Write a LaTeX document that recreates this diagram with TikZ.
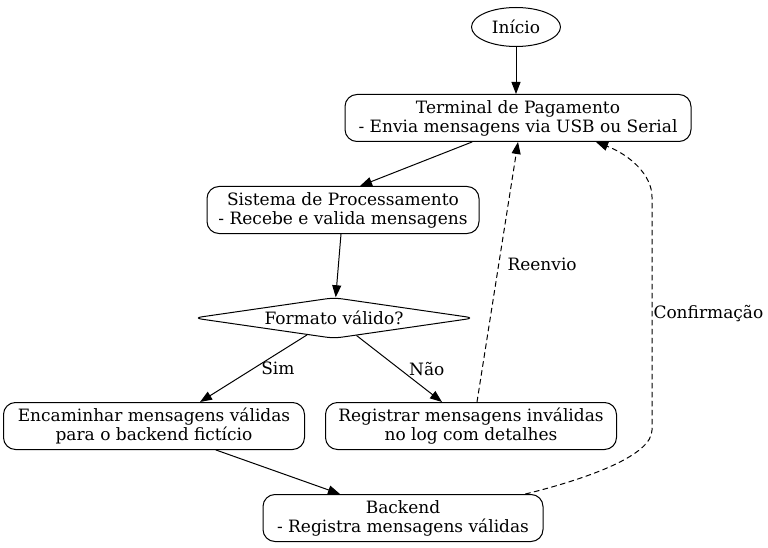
\documentclass[tikz,border=0pt]{standalone}
\usepackage{fontspec}
\setmainfont{DejaVu Serif}
\usetikzlibrary{shapes.geometric,arrows.meta}

\begin{document}
\begin{tikzpicture}[x=1pt,y=-1pt,line join=round,line cap=round,>={Triangle[length=12pt,width=9pt]},line width=1pt]
	\tikzset{every node/.style={font=\fontsize{17}{19}\selectfont,align=center},
		caixa/.style={draw,rounded corners=12pt,minimum height=47pt,inner sep=0pt},
		decisao/.style={draw,diamond,aspect=7,rounded corners=8pt,minimum width=281pt,minimum height=41pt,inner sep=0pt},
		tracejado/.style={dashed,dash pattern=on 5pt off 4pt}}
	\useasboundingbox (0,0) rectangle (768,548);
	% nos
	\node[draw,ellipse,minimum width=89pt,minimum height=39pt,inner sep=0pt] (inicio) at (516,27) {Início};
	\node[caixa,minimum width=346pt] (terminal) at (518,118) {Terminal de Pagamento\\- Envia mensagens via USB ou Serial};
	\node[caixa,minimum width=272pt] (sistema) at (343,210) {Sistema de Processamento\\- Recebe e valida mensagens};
	\node[decisao] (formato) at (334,318) {Formato válido?};
	\node[caixa,minimum width=301pt] (encaminhar) at (154,426) {Encaminhar mensagens válidas\\para o backend fictício};
	\node[caixa,minimum width=291pt] (registrar) at (471,426) {Registrar mensagens inválidas\\no log com detalhes};
	\node[caixa,minimum width=280pt] (backend) at (403,518) {Backend\\- Registra mensagens válidas};
	% setas
	\draw[->] (inicio) -- (inicio |- terminal.north);
	\draw[->] ([xshift=-46pt]terminal.south) -- ([xshift=17pt]sistema.north);
	\draw[->] (sistema) -- (formato);
	\draw[->] (formato) -- node[right=4pt] {Sim} ([xshift=46pt]encaminhar.north);
	\draw[->] (formato) -- node[right=6pt] {Não} ([xshift=-29pt]registrar.north);
	\draw[->] ([xshift=62pt]encaminhar.south) -- ([xshift=-63pt]backend.north);
	\draw[->,tracejado] ([xshift=6pt]registrar.north) -- node[pos=0.53,right=5pt] {Reenvio} (terminal.south);
	\draw[->,tracejado] ([xshift=-18pt]backend.north east) .. controls (590,478) and (652,455) .. (652,430)
		-- node[right,inner sep=1pt] {Confirmação} (652,197) .. controls (652,175) and (630,155) .. ([xshift=78pt]terminal.south);
\end{tikzpicture}
\end{document}
